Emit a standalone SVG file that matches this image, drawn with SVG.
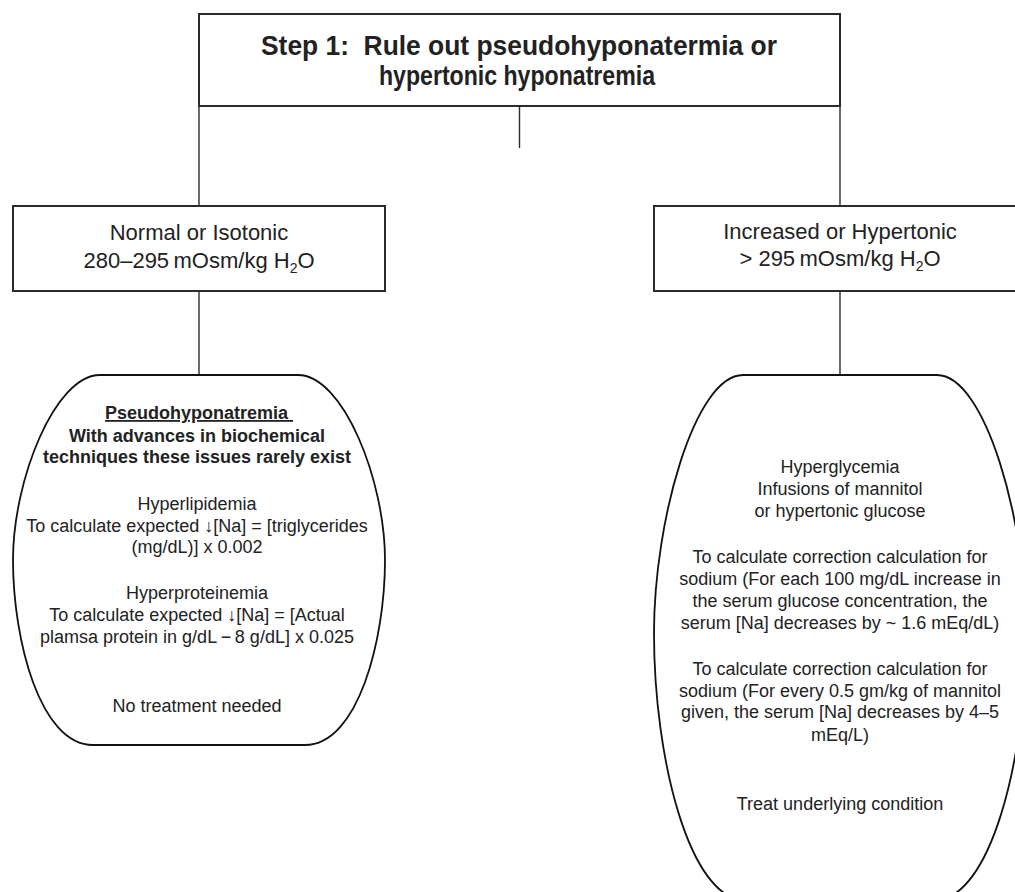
<svg xmlns="http://www.w3.org/2000/svg" width="1015" height="892" viewBox="0 0 1015 892">
<style>
  .bg { fill: #ffffff; }
  .box { fill: #ffffff; stroke: #2b2b2b; stroke-width: 2; }
  .shape { fill: #ffffff; stroke: #111111; stroke-width: 1.8; }
  .conn { stroke: #2b2b2b; stroke-width: 1.4; fill: none; }
  text { font-family: "Liberation Sans", Arial, Helvetica, sans-serif; fill: #222222; text-anchor: middle; }
  .title { font-size: 27px; font-weight: bold; }
  .lbl { font-size: 22px; }
  .sub { font-size: 14px; }
  .b { font-size: 18px; font-weight: bold; }
  .t { font-size: 18px; }
</style>
<rect class="bg" x="0" y="0" width="1015" height="892"/>

<g id="connectors">
  <line class="conn" x1="199" y1="106" x2="199" y2="206"/>
  <line class="conn" x1="840" y1="106" x2="840" y2="206"/>
  <line class="conn" x1="519.5" y1="106" x2="519.5" y2="148"/>
  <line class="conn" x1="199" y1="291" x2="199" y2="375"/>
  <line class="conn" x1="840" y1="291" x2="840" y2="375"/>
</g>

<g id="step1">
  <rect class="box" x="199" y="14" width="641" height="92"/>
  <text class="title" x="519" y="55" textLength="516" lengthAdjust="spacingAndGlyphs">Step 1:&#160; Rule out pseudohyponatermia or</text>
  <text class="title" x="517" y="85" textLength="276" lengthAdjust="spacingAndGlyphs">hypertonic hyponatremia</text>
</g>

<g id="isotonic">
  <rect class="box" x="13" y="206" width="372" height="85"/>
  <text class="lbl" x="199" y="240">Normal or Isotonic</text>
  <text class="lbl" x="199" y="268">280–295&#8201;mOsm/kg H<tspan class="sub" dy="5">2</tspan><tspan dy="-5">O</tspan></text>
</g>

<g id="hypertonic">
  <rect class="box" x="654" y="206" width="380" height="85"/>
  <text class="lbl" x="840" y="239">Increased or Hypertonic</text>
  <text class="lbl" x="840" y="266">&gt; 295&#8201;mOsm/kg H<tspan class="sub" dy="5">2</tspan><tspan dy="-5">O</tspan></text>
</g>

<g id="pseudo">
  <path class="shape" d="M100,375 L298,375 C343,375 385,480 385,560 C385,640 358,745 305,745 L93,745 C40,745 13,640 13,560 C13,480 55,375 100,375 Z"/>
  <text class="b" x="105" y="419" style="text-anchor:start; text-decoration:underline;">Pseudohyponatremia&#160;</text>
  <text class="b" x="197" y="442">With advances in biochemical</text>
  <text class="b" x="197" y="463">techniques these issues rarely exist</text>
  <text class="t" x="197" y="510">Hyperlipidemia</text>
  <text class="t" x="197" y="532">To calculate expected ↓[Na] = [triglycerides</text>
  <text class="t" x="197" y="553">(mg/dL)] x 0.002</text>
  <text class="t" x="197" y="599">Hyperproteinemia</text>
  <text class="t" x="197" y="621">To calculate expected ↓[Na] = [Actual</text>
  <text class="t" x="197" y="643">plamsa protein in g/dL&#8201;−&#8201;8 g/dL] x 0.025</text>
  <text class="t" x="197" y="712">No treatment needed</text>
</g>

<g id="hyperglycemia">
  <path class="shape" d="M743,375 L937,375 C985,375 1026,520 1026,633 C1026,760 990,900 935,900 L745,900 C690,900 654,760 654,633 C654,520 695,375 743,375 Z"/>
  <text class="t" x="840" y="473">Hyperglycemia</text>
  <text class="t" x="840" y="495">Infusions of mannitol</text>
  <text class="t" x="840" y="517">or hypertonic glucose</text>
  <text class="t" x="840" y="563">To calculate correction calculation for</text>
  <text class="t" x="840" y="585">sodium (For each 100 mg/dL increase in</text>
  <text class="t" x="840" y="607">the serum glucose concentration, the</text>
  <text class="t" x="840" y="629">serum [Na] decreases by ~ 1.6 mEq/dL)</text>
  <text class="t" x="840" y="675">To calculate correction calculation for</text>
  <text class="t" x="840" y="697">sodium (For every 0.5 gm/kg of mannitol</text>
  <text class="t" x="840" y="718">given, the serum [Na] decreases by 4–5</text>
  <text class="t" x="840" y="741">mEq/L)</text>
  <text class="t" x="840" y="810">Treat underlying condition</text>
</g>
</svg>
